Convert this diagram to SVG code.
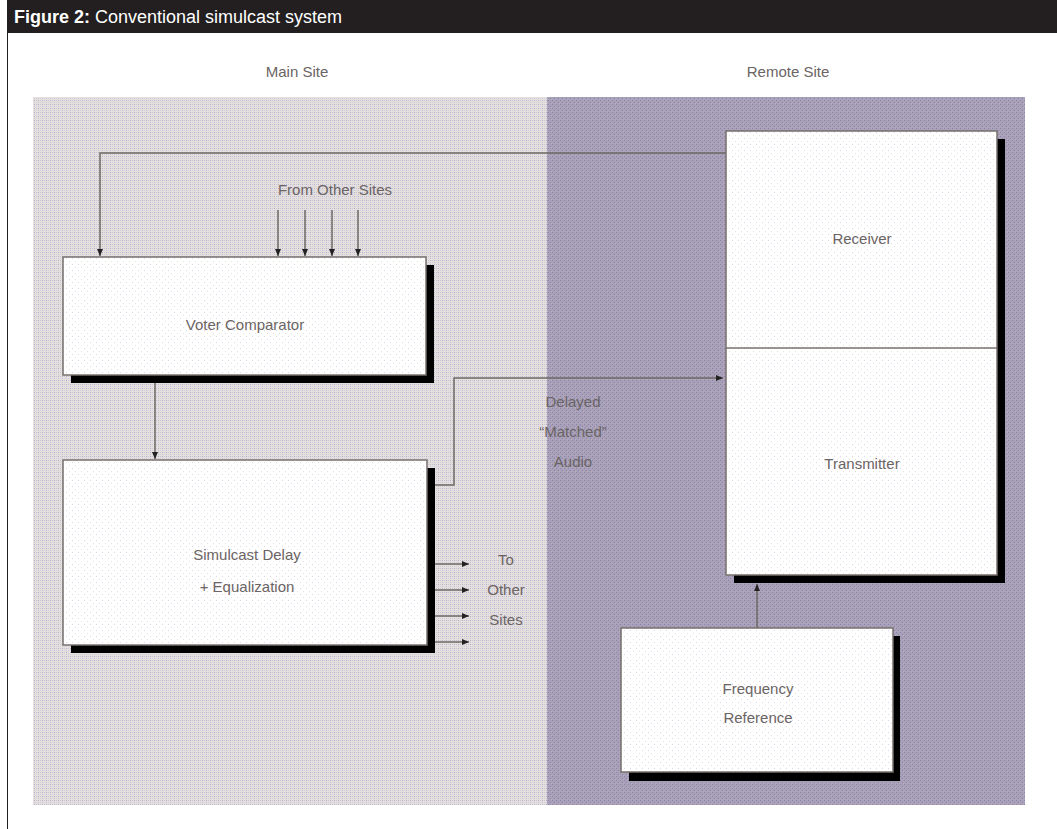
<svg xmlns="http://www.w3.org/2000/svg" width="1057" height="829" viewBox="0 0 1057 829">
<defs>
<pattern id="pLight" width="4" height="4" patternUnits="userSpaceOnUse">
<rect width="4" height="4" fill="#e4e0de"/>
<rect x="0" y="0" width="1" height="1" fill="#cbc3da"/>
<rect x="2" y="2" width="1" height="1" fill="#cbc3da"/>
<rect x="2" y="0" width="1" height="1" fill="#b8aec8"/>
<rect x="0" y="2" width="1" height="1" fill="#d6d0de"/>
</pattern>
<pattern id="pDark" width="4" height="4" patternUnits="userSpaceOnUse">
<rect width="4" height="4" fill="#aaa1b8"/>
<rect x="0" y="0" width="1" height="1" fill="#8c81a6"/>
<rect x="2" y="2" width="1" height="1" fill="#8c81a6"/>
<rect x="1" y="1" width="1" height="1" fill="#98a6c2"/>
<rect x="3" y="3" width="1" height="1" fill="#b6aec2"/>
</pattern>
<pattern id="pBox" width="6" height="6" patternUnits="userSpaceOnUse">
<rect width="6" height="6" fill="#ffffff"/>
<rect x="0" y="0" width="1" height="1" fill="#ddd6e6"/>
<rect x="3" y="3" width="1" height="1" fill="#e6e1dc"/>
</pattern>
<marker id="ah" viewBox="0 0 8 8" refX="7" refY="4" markerWidth="8" markerHeight="8" markerUnits="userSpaceOnUse" orient="auto">
<path d="M0,1 L7,4 L0,7 z" fill="#222"/>
</marker>
</defs>
<style>
.lbl{font-family:"Liberation Sans","DejaVu Sans",sans-serif;font-size:15px;fill:#6b6464;text-anchor:middle}
.box{fill:url(#pBox);stroke:#77706c;stroke-width:1.5}
.shadow{fill:#000}
.conn{fill:none;stroke:#6e6864;stroke-width:1.5}
</style>
<rect width="1057" height="829" fill="#ffffff"/>
<rect id="header" x="7" y="0" width="1050" height="33" fill="#231f20"/>
<text x="14" y="23" font-family="Liberation Sans, Arial, sans-serif" font-size="18" fill="#ffffff"><tspan font-weight="bold">Figure 2:</tspan> Conventional simulcast system</text>
<line x1="7.5" y1="33" x2="7.5" y2="829" stroke="#231f20" stroke-width="1"/>

<g id="background">
<rect x="33" y="97" width="514" height="708" fill="url(#pLight)"/>
<rect x="547" y="97" width="478" height="708" fill="url(#pDark)"/>
<text class="lbl" x="297" y="77">Main Site</text>
<text class="lbl" x="788" y="77">Remote Site</text>
</g>

<g id="connectors">
<polyline class="conn" points="726,153 100,153 100,256" marker-end="url(#ah)"/>
<line class="conn" x1="278" y1="210" x2="278" y2="256" marker-end="url(#ah)"/>
<line class="conn" x1="305" y1="210" x2="305" y2="256" marker-end="url(#ah)"/>
<line class="conn" x1="332" y1="210" x2="332" y2="256" marker-end="url(#ah)"/>
<line class="conn" x1="358" y1="210" x2="358" y2="256" marker-end="url(#ah)"/>
<line class="conn" x1="155" y1="383" x2="155" y2="459" marker-end="url(#ah)"/>
<polyline class="conn" points="435,485 454,485 454,378 723,378" marker-end="url(#ah)"/>
<line class="conn" x1="435" y1="564" x2="469" y2="564" marker-end="url(#ah)"/>
<line class="conn" x1="435" y1="590" x2="469" y2="590" marker-end="url(#ah)"/>
<line class="conn" x1="435" y1="616" x2="469" y2="616" marker-end="url(#ah)"/>
<line class="conn" x1="435" y1="642" x2="469" y2="642" marker-end="url(#ah)"/>
<line class="conn" x1="757" y1="628" x2="757" y2="584" marker-end="url(#ah)"/>
<text class="lbl" x="335" y="195">From Other Sites</text>
<text class="lbl" x="573" y="407">Delayed</text>
<text class="lbl" x="573" y="437">“Matched”</text>
<text class="lbl" x="573" y="467">Audio</text>
<text class="lbl" x="506" y="565">To</text>
<text class="lbl" x="506" y="595">Other</text>
<text class="lbl" x="506" y="625">Sites</text>
</g>

<g id="voter-comparator">
<rect class="shadow" x="71" y="265" width="363" height="118"/>
<rect class="box" x="63" y="257" width="363" height="118"/>
<text class="lbl" x="245" y="330">Voter Comparator</text>
</g>

<g id="simulcast-delay">
<rect class="shadow" x="71" y="468" width="364" height="185"/>
<rect class="box" x="63" y="460" width="364" height="185"/>
<text class="lbl" x="247" y="560">Simulcast Delay</text>
<text class="lbl" x="247" y="592">+ Equalization</text>
</g>

<g id="receiver-transmitter">
<rect class="shadow" x="734" y="139" width="271" height="444"/>
<rect class="box" x="726" y="131" width="271" height="444"/>
<line x1="726" y1="348" x2="997" y2="348" stroke="#77706c" stroke-width="1.5"/>
<text class="lbl" x="862" y="244">Receiver</text>
<text class="lbl" x="862" y="469">Transmitter</text>
</g>

<g id="frequency-reference">
<rect class="shadow" x="629" y="636" width="271" height="145"/>
<rect class="box" x="621" y="628" width="272" height="144"/>
<text class="lbl" x="758" y="694">Frequency</text>
<text class="lbl" x="758" y="723">Reference</text>
</g>
</svg>
